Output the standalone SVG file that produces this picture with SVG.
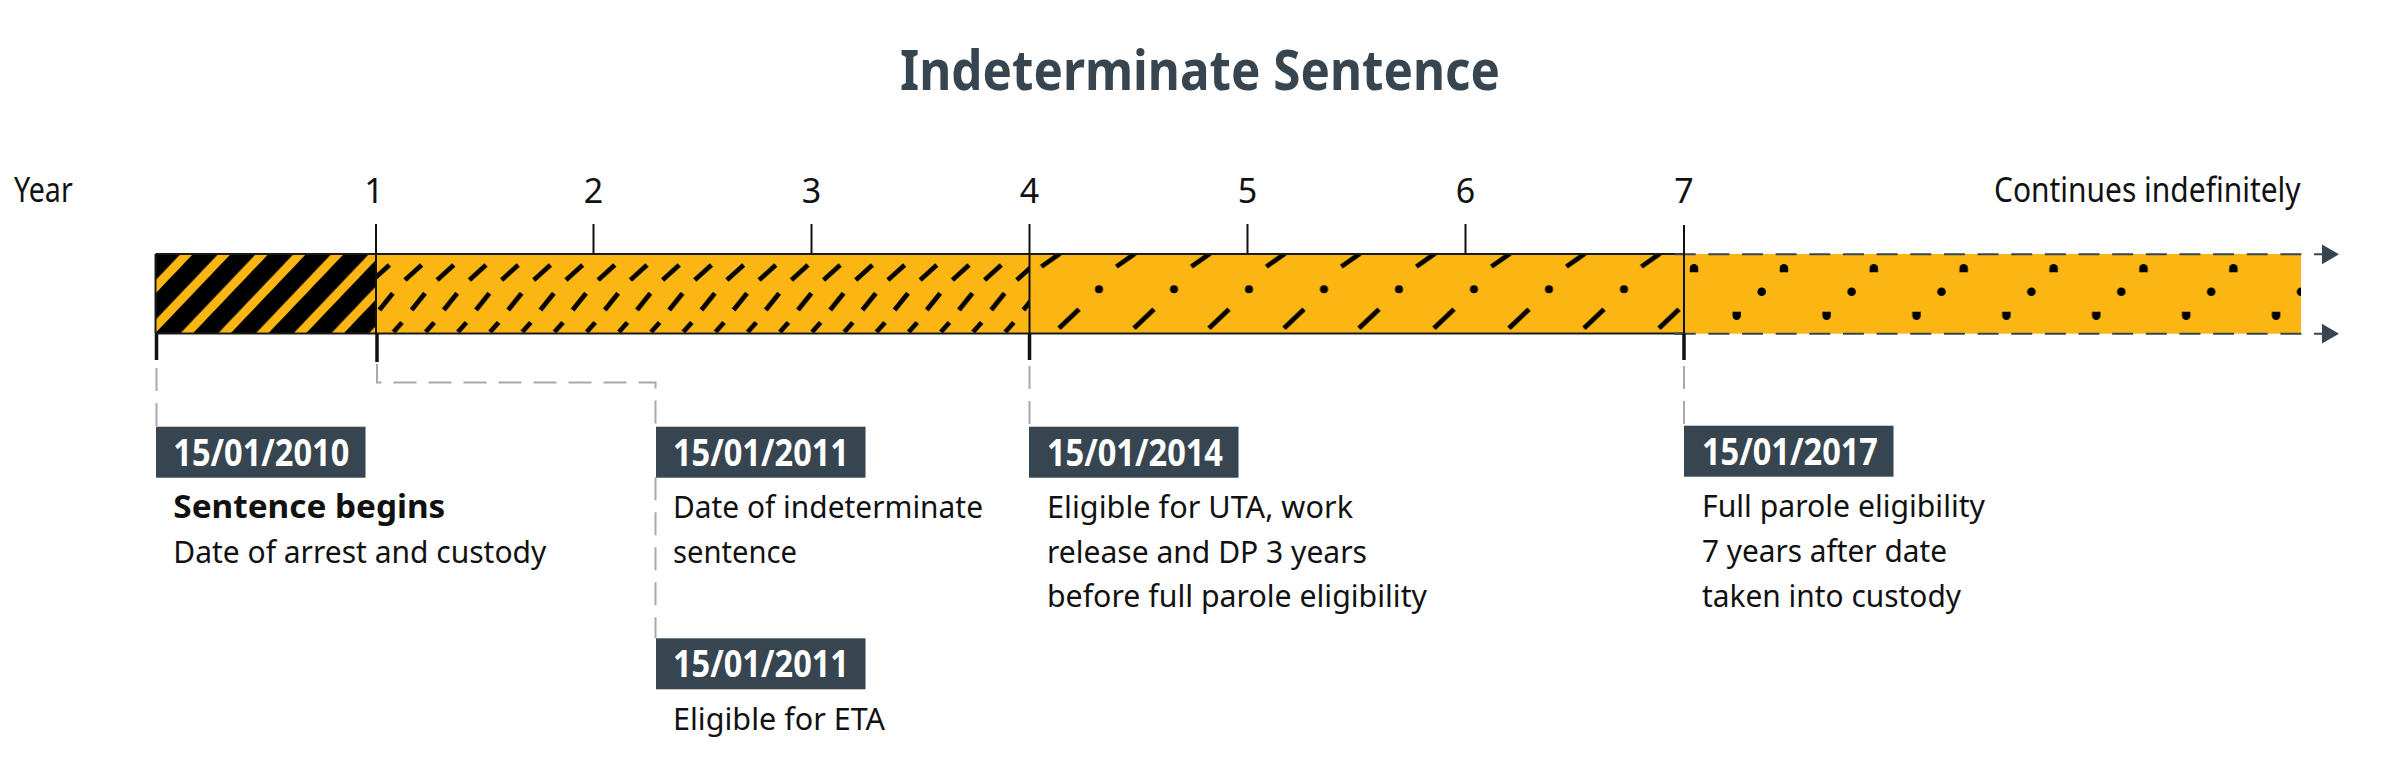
<svg xmlns="http://www.w3.org/2000/svg" width="2399" height="774" viewBox="0 0 2399 774">
<style>
  text{font-family:"Noto Sans","Liberation Sans",Arial,sans-serif;}
  .title{font-size:55px;font-weight:700;fill:#36454f}
  .axis{font-size:35px;fill:#111}
  .num{font-size:34px;fill:#111;text-anchor:middle}
  .date{font-size:37px;font-weight:700;fill:#ffffff}
  .body{font-size:31.5px;fill:#111}
  .bold{font-weight:700}
  .box{fill:#36454f}
  .yel{fill:#fcb614}
  .conn{fill:none;stroke:#a7a9ac;stroke-width:2;stroke-dasharray:23 12}
  .tick{stroke:#111;stroke-width:2}
  .tickb{stroke:#111;stroke-width:3.5}
  .edge{stroke:#1a1a1a;stroke-width:2}
  .cont{fill:none;stroke:#36454f;stroke-width:2;stroke-dasharray:21 12.65}
  .hd{stroke:#000;stroke-width:4.7;fill:none}
</style>
<defs>
  <pattern id="stripes" patternUnits="userSpaceOnUse" width="27.3" height="40" patternTransform="rotate(43.6)">
    <rect x="5.6" y="0" width="9.05" height="40" fill="#fcb614"/>
  </pattern>
  <pattern id="dash1" patternUnits="userSpaceOnUse" x="376" y="254" width="32.2" height="90">
    <g class="hd">
      <line x1="-3.2" y1="26" x2="13.4" y2="11"/>
      <line x1="29" y1="26" x2="45.6" y2="11"/>
      <line x1="3.4" y1="56" x2="16.8" y2="39.3"/>
      <line x1="17.5" y1="78" x2="26" y2="68.5"/>
    </g>
  </pattern>
  <pattern id="dash2" patternUnits="userSpaceOnUse" x="1029.5" y="254" width="75" height="90">
    <line class="hd" x1="11.9" y1="12.7" x2="30.5" y2="-0.5"/>
    <circle cx="69.5" cy="35.3" r="4" fill="#000"/>
    <line class="hd" x1="29.5" y1="74.3" x2="49.5" y2="55.3"/>
  </pattern>
  <pattern id="dots" patternUnits="userSpaceOnUse" x="1684" y="254" width="89.9" height="90">
    <path d="M5.8,18.3 h8.4 v-4 a4.2,4.2 0 0 0 -8.4,0 z" fill="#000"/>
    <circle cx="77.7" cy="37.7" r="4.3" fill="#000"/>
    <path d="M48.5,57.8 h8.4 v4 a4.2,4.2 0 0 1 -8.4,0 z" fill="#000"/>
  </pattern>
  <marker id="arrow" markerUnits="userSpaceOnUse" markerWidth="20" markerHeight="22" refX="8.3" refY="10" orient="auto" viewBox="0 0 20 20">
    <path d="M0,0 L17.3,10 L0,20 z" fill="#36454f"/>
  </marker>
</defs>

<g id="title">
  <text class="title" x="900" y="89.5" textLength="600" lengthAdjust="spacingAndGlyphs">Indeterminate Sentence</text>
</g>

<g id="axis-labels">
  <text class="axis" x="14" y="201.7" textLength="58.7" lengthAdjust="spacingAndGlyphs">Year</text>
  <text class="num" x="374" y="202.5">1</text>
  <text class="num" x="593.5" y="202.5">2</text>
  <text class="num" x="811.5" y="202.5">3</text>
  <text class="num" x="1029.5" y="202.5">4</text>
  <text class="num" x="1247.5" y="202.5">5</text>
  <text class="num" x="1465.5" y="202.5">6</text>
  <text class="num" x="1684" y="202.5">7</text>
  <text class="axis" x="2300.6" y="201.7" text-anchor="end" textLength="306.6" lengthAdjust="spacingAndGlyphs">Continues indefinitely</text>
</g>

<g id="bar">
  <rect x="155.5" y="254" width="220.5" height="79.5" fill="#000"/>
  <rect x="155.5" y="254" width="220.5" height="79.5" fill="url(#stripes)"/>
  <rect class="yel" x="376" y="254" width="653.5" height="79.5"/>
  <rect x="376" y="254" width="653.5" height="79.5" fill="url(#dash1)"/>
  <rect class="yel" x="1029.5" y="254" width="654.5" height="79.5"/>
  <rect x="1029.5" y="254" width="654.5" height="79.5" fill="url(#dash2)"/>
  <rect class="yel" x="1684" y="254" width="617" height="79.7"/>
  <rect x="1684" y="254" width="617" height="79.7" fill="url(#dots)"/>
  <line class="edge" x1="155.5" y1="254" x2="1684" y2="254"/>
  <line class="edge" x1="155.5" y1="333.5" x2="1684" y2="333.5"/>
  <line class="edge" x1="155.5" y1="254" x2="155.5" y2="333.5"/>
  <line class="cont" x1="1674.7" y1="254.3" x2="2330" y2="254.3" marker-end="url(#arrow)"/>
  <line class="cont" x1="1674.7" y1="333.7" x2="2330" y2="333.7" marker-end="url(#arrow)"/>
</g>

<g id="ticks">
  <line class="tick" x1="376" y1="224" x2="376" y2="333.5"/>
  <line class="tick" x1="593.5" y1="224" x2="593.5" y2="254"/>
  <line class="tick" x1="811.5" y1="224" x2="811.5" y2="254"/>
  <line class="tick" x1="1029.5" y1="224" x2="1029.5" y2="333.5"/>
  <line class="tick" x1="1247.5" y1="224" x2="1247.5" y2="254"/>
  <line class="tick" x1="1465.5" y1="224" x2="1465.5" y2="254"/>
  <line class="tick" x1="1684" y1="225" x2="1684" y2="333.5"/>
  <line class="tickb" x1="156.5" y1="333.5" x2="156.5" y2="360"/>
  <line class="tickb" x1="377" y1="333.5" x2="377" y2="362"/>
  <line class="tickb" x1="1029.5" y1="333.5" x2="1029.5" y2="360"/>
  <line class="tickb" x1="1684" y1="333.5" x2="1684" y2="360"/>
</g>

<g id="connectors">
  <path class="conn" d="M156.5,368 V426.7"/>
  <path class="conn" d="M377,364 V382.5 H655.5 V426.7"/>
  <path class="conn" d="M655.5,477.3 V638.3"/>
  <path class="conn" d="M1029.5,366 V426.7"/>
  <path class="conn" d="M1684,366 V425.7"/>
</g>

<g id="node-2010">
  <rect class="box" x="156" y="426.7" width="209.5" height="51"/>
  <text class="date" x="173.3" y="465.7" textLength="176" lengthAdjust="spacingAndGlyphs">15/01/2010</text>
  <text class="body bold" x="173.3" y="517.5" textLength="272" lengthAdjust="spacingAndGlyphs">Sentence begins</text>
  <text class="body" x="173.3" y="562.5" textLength="373" lengthAdjust="spacingAndGlyphs">Date of arrest and custody</text>
</g>

<g id="node-2011-sentence">
  <rect class="box" x="656" y="426.7" width="209.5" height="51"/>
  <text class="date" x="673" y="465.7" textLength="176" lengthAdjust="spacingAndGlyphs">15/01/2011</text>
  <text class="body" x="673" y="517.5" textLength="310" lengthAdjust="spacingAndGlyphs">Date of indeterminate</text>
  <text class="body" x="673" y="562.5" textLength="124" lengthAdjust="spacingAndGlyphs">sentence</text>
</g>

<g id="node-2011-eta">
  <rect class="box" x="656" y="638.3" width="209.5" height="51"/>
  <text class="date" x="673" y="677.3" textLength="176" lengthAdjust="spacingAndGlyphs">15/01/2011</text>
  <text class="body" x="673" y="730" textLength="212" lengthAdjust="spacingAndGlyphs">Eligible for ETA</text>
</g>

<g id="node-2014">
  <rect class="box" x="1029" y="426.7" width="209.5" height="51"/>
  <text class="date" x="1047" y="465.7" textLength="176" lengthAdjust="spacingAndGlyphs">15/01/2014</text>
  <text class="body" x="1047" y="517.5" textLength="306" lengthAdjust="spacingAndGlyphs">Eligible for UTA, work</text>
  <text class="body" x="1047" y="562.5" textLength="320" lengthAdjust="spacingAndGlyphs">release and DP 3 years</text>
  <text class="body" x="1047" y="607" textLength="380" lengthAdjust="spacingAndGlyphs">before full parole eligibility</text>
</g>

<g id="node-2017">
  <rect class="box" x="1684" y="425.7" width="209.5" height="51"/>
  <text class="date" x="1702" y="464.7" textLength="176" lengthAdjust="spacingAndGlyphs">15/01/2017</text>
  <text class="body" x="1702" y="517" textLength="283" lengthAdjust="spacingAndGlyphs">Full parole eligibility</text>
  <text class="body" x="1702" y="562" textLength="245" lengthAdjust="spacingAndGlyphs">7 years after date</text>
  <text class="body" x="1702" y="606.5" textLength="259" lengthAdjust="spacingAndGlyphs">taken into custody</text>
</g>
</svg>
